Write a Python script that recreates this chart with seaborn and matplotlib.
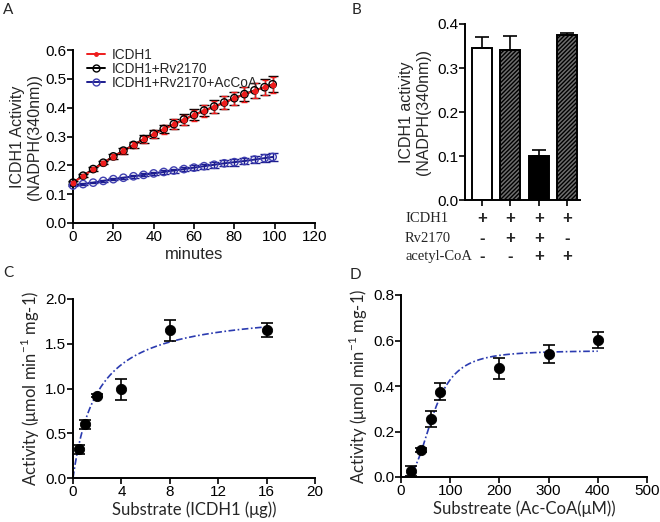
import numpy as np
import pandas as pd
import seaborn as sns
import matplotlib
matplotlib.use("Agg")
import matplotlib.pyplot as plt
from matplotlib.lines import Line2D

sns.set_theme(style="ticks")
plt.rcParams['font.family'] = ['Liberation Sans', 'DejaVu Sans']
plt.rcParams['mathtext.fontset'] = 'custom'
plt.rcParams['mathtext.rm'] = 'Lato'
plt.rcParams['hatch.linewidth'] = 1.0
plt.rcParams['hatch.color'] = '#222222'

# ---------------- Data ----------------
# Panel A
minutes = [0, 5, 10, 15, 20, 25, 30, 35, 40, 45, 50, 55, 60, 65, 70, 75, 80, 85, 90, 95, 99]
icdh1 = [0.140, 0.163, 0.186, 0.208, 0.230, 0.250, 0.270, 0.290, 0.308, 0.325, 0.342,
         0.358, 0.374, 0.389, 0.403, 0.417, 0.432, 0.446, 0.459, 0.470, 0.480]
icdh1_err = [0.004, 0.005, 0.006, 0.006, 0.008, 0.010, 0.011, 0.013, 0.014, 0.015, 0.017,
             0.018, 0.019, 0.020, 0.021, 0.022, 0.023, 0.025, 0.026, 0.027, 0.028]
icdh1_rv = [0.140, 0.164, 0.187, 0.209, 0.231, 0.251, 0.271, 0.291, 0.309, 0.326, 0.343,
            0.359, 0.375, 0.390, 0.404, 0.418, 0.433, 0.447, 0.460, 0.471, 0.481]
icdh1_rv_err = [0.004, 0.005, 0.006, 0.006, 0.008, 0.010, 0.011, 0.013, 0.014, 0.015, 0.017,
                0.018, 0.019, 0.020, 0.021, 0.022, 0.023, 0.025, 0.026, 0.027, 0.028]
icdh1_rv_acoa = [0.130, 0.135, 0.140, 0.146, 0.152, 0.157, 0.162, 0.167, 0.172, 0.177, 0.182,
                 0.187, 0.192, 0.197, 0.202, 0.207, 0.211, 0.215, 0.220, 0.225, 0.229]
icdh1_rv_acoa_err = [0.003, 0.003, 0.003, 0.004, 0.004, 0.004, 0.005, 0.005, 0.006, 0.006, 0.007,
                     0.008, 0.008, 0.009, 0.010, 0.011, 0.012, 0.012, 0.013, 0.014, 0.015]
series_labels = ["ICDH1", "ICDH1+Rv2170", "ICDH1+Rv2170+AcCoA"]

# Panel B
b_conditions = ["c1", "c2", "c3", "c4"]
b_values = [0.345, 0.340, 0.100, 0.375]
b_err = [0.025, 0.032, 0.013, 0.004]
b_rows = ["ICDH1", "Rv2170", "acetyl-CoA"]
b_table = [["+", "+", "+", "+"],
           ["-", "+", "+", "-"],
           ["-", "-", "+", "+"]]

# Panel C
c_x = [0.5, 1, 2, 4, 8, 16]
c_y = [0.32, 0.60, 0.92, 0.99, 1.65, 1.65]
c_err = [0.05, 0.05, 0.02, 0.12, 0.12, 0.08]
c_vmax, c_km = 1.90, 2.0

# Panel D
d_x = [20, 40, 60, 80, 200, 300, 400]
d_y = [0.025, 0.118, 0.255, 0.375, 0.477, 0.540, 0.601]
d_err = [0.022, 0.008, 0.036, 0.038, 0.046, 0.040, 0.036]
d_vmax, d_k, d_n = 0.556, 66.0, 2.9

# ---------------- Figure ----------------
W, H = 660, 522
fig = plt.figure(figsize=(W / 100, H / 100), dpi=100)

tick_font = 11
label_font = 11.5


def add_ax(x0, y0, x1, y1):
    return fig.add_axes([x0 / W, 1 - y1 / H, (x1 - x0) / W, (y1 - y0) / H])


def style(ax):
    sns.despine(ax=ax)
    for s in ["left", "bottom"]:
        ax.spines[s].set_linewidth(1.4)
        ax.spines[s].set_color("black")
    ax.tick_params(direction="out", length=4, width=1.2, labelsize=tick_font, colors="black", pad=1)


RED, BLACK, BLUE = "#ee1c1c", "black", "#1c1c8e"

# ---- Panel A ----
axA = add_ax(73, 50, 315, 223)
style(axA)
dfA = pd.DataFrame({"minutes": minutes * 3,
                    "value": icdh1_rv + icdh1 + icdh1_rv_acoa,
                    "series": [series_labels[1]] * len(minutes) + [series_labels[0]] * len(minutes)
                    + [series_labels[2]] * len(minutes)})
colorsA = {series_labels[0]: RED, series_labels[1]: BLACK, series_labels[2]: BLUE}
sns.lineplot(data=dfA, x="minutes", y="value", hue="series", palette=colorsA, ax=axA,
             legend=False, linewidth=1.4, clip_on=False)
axA.errorbar(minutes, icdh1_rv, yerr=icdh1_rv_err, fmt="none", ecolor=BLACK, capsize=3.5,
             elinewidth=1, clip_on=False)
axA.errorbar(minutes, icdh1, yerr=icdh1_err, fmt="none", ecolor=RED, capsize=2.5,
             elinewidth=1, clip_on=False)
axA.errorbar(minutes, icdh1_rv_acoa, yerr=icdh1_rv_acoa_err, fmt="none", ecolor=BLUE,
             capsize=3.5, elinewidth=1, clip_on=False)
axA.scatter(minutes, icdh1_rv, s=28, facecolors="none", edgecolors="black", linewidths=1,
            zorder=5, clip_on=False)
axA.scatter(minutes, icdh1, s=10, color=RED, zorder=6, clip_on=False)
axA.scatter(minutes, icdh1_rv_acoa, s=28, facecolors="none", edgecolors="#4040b0", linewidths=1,
            zorder=5, clip_on=False)
axA.set_xlim(0, 120)
axA.set_ylim(0, 0.6)
axA.set_xticks(range(0, 121, 20))
axA.set_yticks(np.arange(0, 0.61, 0.1))
axA.set_yticklabels([f"{v:.1f}" for v in np.arange(0, 0.61, 0.1)])
axA.set_xlabel("minutes", fontsize=12, labelpad=2)
axA.set_ylabel("ICDH1 Activity\n(NADPH(340nm))", fontsize=label_font, labelpad=2)
handles = [Line2D([], [], color=RED, marker="o", markersize=2.5, lw=1.4),
           Line2D([], [], color="black", marker="o", markersize=5, mfc="none", lw=1.4),
           Line2D([], [], color=BLUE, marker="o", markersize=5, mfc="none", mec="#4040b0", lw=1.4)]
axA.legend(handles, series_labels, loc="upper left", bbox_to_anchor=(0.035, 1.045), frameon=False,
           fontsize=9.8, handlelength=1.3, handletextpad=0.5, labelspacing=0.02, borderaxespad=0)

# ---- Panel B ----
axB = add_ax(465, 24, 580, 200)
style(axB)
dfB = pd.DataFrame({"cond": b_conditions, "value": b_values})
sns.barplot(data=dfB, x="cond", y="value", hue="cond", palette=["white", "#6e6e6e", "black", "#6e6e6e"],
            ax=axB, width=0.7, edgecolor="black", linewidth=1.4, legend=False, errorbar=None)
hatches = [None, "////////", None, "////////"]
for p, h in zip(axB.patches, hatches):
    if h:
        p.set_hatch(h)
axB.errorbar(range(4), b_values, yerr=[[0] * 4, b_err], fmt="none", ecolor="black", capsize=5,
             elinewidth=1.2, capthick=1.2)
axB.set_xlim(-0.6, 3.45)
axB.set_ylim(0, 0.4)
axB.set_yticks([0, 0.1, 0.2, 0.3, 0.4])
axB.set_yticklabels(["0.0", "0.1", "0.2", "0.3", "0.4"])
axB.set_xticks(range(4))
axB.set_xticklabels([])
axB.set_xlabel("")
axB.set_ylabel("ICDH1 activity\n(NADPH(340nm))", fontsize=label_font, labelpad=4)
row_y = [218, 238, 257]
for r, (name, yy) in enumerate(zip(b_rows, row_y)):
    fig.text(405 / W, 1 - yy / H, name, family="Liberation Serif", fontsize=10.5,
             va="center", ha="left")
    for i in range(4):
        xd = axB.transData.transform((i, 0))[0]
        fig.text(xd / W, 1 - yy / H, b_table[r][i], family="Liberation Sans",
                 fontsize=12, va="center", ha="center", fontweight="bold")

# ---- Panel C ----
axC = add_ax(73, 299, 315, 478)
style(axC)
xs = np.linspace(0, 16, 200)
sns.lineplot(x=xs, y=c_vmax * xs / (c_km + xs), ax=axC, color="#2b3bb0", lw=1.2,
             linestyle=(0, (4, 1.5, 1, 1.5)))
axC.errorbar(c_x, c_y, yerr=c_err, fmt="none", ecolor="black", capsize=4, elinewidth=1.2,
             capthick=1.2)
sns.scatterplot(x=c_x, y=c_y, ax=axC, color="black", s=55, edgecolor="black", zorder=5)
axC.set_xlim(0, 20)
axC.set_ylim(0, 2.0)
axC.set_xticks(range(0, 21, 4))
axC.set_yticks([0, 0.5, 1.0, 1.5, 2.0])
axC.set_yticklabels(["0.0", "0.5", "1.0", "1.5", "2.0"])
axC.set_xlabel("Substrate (ICDH1 (μg))", fontsize=12, family="Lato", labelpad=2)
axC.set_ylabel("Activity (μmol min$^{-1}$ mg-1)", fontsize=12, family="Lato", labelpad=2)

# ---- Panel D ----
axD = add_ax(401, 295, 647, 477)
style(axD)
xs = np.linspace(0, 400, 300)
sns.lineplot(x=xs, y=d_vmax * xs ** d_n / (d_k ** d_n + xs ** d_n), ax=axD, color="#2b3bb0",
             lw=1.2, linestyle=(0, (4, 1.5, 1, 1.5)))
axD.errorbar(d_x, d_y, yerr=d_err, fmt="none", ecolor="black", capsize=4, elinewidth=1.2,
             capthick=1.2)
sns.scatterplot(x=d_x, y=d_y, ax=axD, color="black", s=55, edgecolor="black", zorder=5)
axD.set_xlim(0, 500)
axD.set_ylim(0, 0.8)
axD.set_xticks(range(0, 501, 100))
axD.set_yticks([0, 0.2, 0.4, 0.6, 0.8])
axD.set_yticklabels(["0.0", "0.2", "0.4", "0.6", "0.8"])
axD.set_xlabel("Substreate (Ac-CoA(μM))", fontsize=12, family="Lato", labelpad=2)
axD.set_ylabel("Activity (μmol min$^{-1}$ mg-1)", fontsize=12, family="Lato", labelpad=2)

# panel letters
for letter, (px, py) in zip("ABCD", [(3, 10), (352, 10), (3, 273), (350, 275)]):
    fig.text(px / W, 1 - py / H, letter, family="Lato", fontsize=11, va="center", ha="left")

fig.savefig("out.png", dpi=100)
